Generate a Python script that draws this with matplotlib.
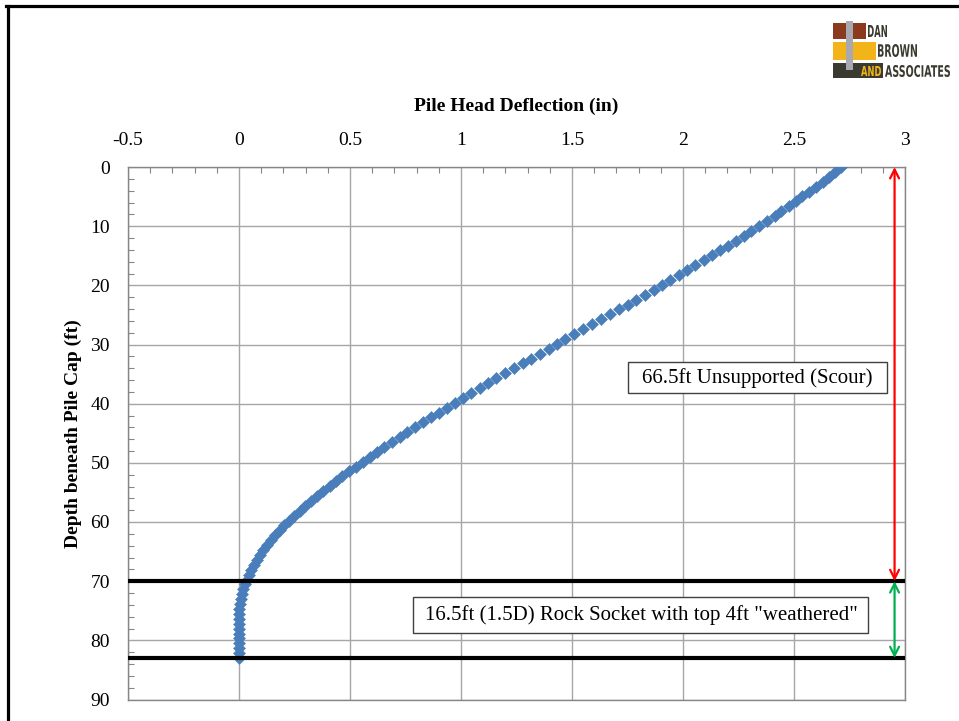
import matplotlib
matplotlib.use('Agg')
import matplotlib.pyplot as plt
from matplotlib.patches import Rectangle, PathPatch
from matplotlib.lines import Line2D
from matplotlib.textpath import TextPath
from matplotlib.font_manager import FontProperties
from matplotlib.transforms import Affine2D
from matplotlib.ticker import MultipleLocator

# pile nodes (ft below cap) and lateral deflection (in)
depth = [0.00, 0.83, 1.66, 2.49, 3.32, 4.15, 4.98, 5.81, 6.64, 7.47,
         8.30, 9.13, 9.96, 10.79, 11.62, 12.45, 13.28, 14.11, 14.94, 15.77,
         16.60, 17.43, 18.26, 19.09, 19.92, 20.75, 21.58, 22.41, 23.24, 24.07,
         24.90, 25.73, 26.56, 27.39, 28.22, 29.05, 29.88, 30.71, 31.54, 32.37,
         33.20, 34.03, 34.86, 35.69, 36.52, 37.35, 38.18, 39.01, 39.84, 40.67,
         41.50, 42.33, 43.16, 43.99, 44.82, 45.65, 46.48, 47.31, 48.14, 48.97,
         49.80, 50.63, 51.46, 52.29, 53.12, 53.95, 54.78, 55.61, 56.44, 57.27,
         58.10, 58.93, 59.76, 60.59, 61.42, 62.25, 63.08, 63.91, 64.74, 65.57,
         66.40, 67.23, 68.06, 68.89, 69.72, 70.55, 71.38, 72.21, 73.04, 73.87,
         74.70, 75.53, 76.36, 77.19, 78.02, 78.85, 79.68, 80.51, 81.34, 82.17,
         83.00]
deflection = [2.713, 2.683, 2.658, 2.631, 2.601, 2.568, 2.538, 2.508, 2.477, 2.443,
              2.413, 2.378, 2.342, 2.308, 2.273, 2.237, 2.203, 2.165, 2.131, 2.093,
              2.056, 2.020, 1.981, 1.943, 1.905, 1.868, 1.827, 1.790, 1.751, 1.710,
              1.670, 1.629, 1.590, 1.550, 1.511, 1.470, 1.432, 1.395, 1.358, 1.317,
              1.279, 1.239, 1.198, 1.159, 1.122, 1.084, 1.045, 1.009, 0.973, 0.937,
              0.901, 0.865, 0.829, 0.795, 0.759, 0.724, 0.689, 0.655, 0.622, 0.589,
              0.559, 0.527, 0.497, 0.466, 0.437, 0.408, 0.379, 0.351, 0.324, 0.298,
              0.273, 0.249, 0.226, 0.204, 0.183, 0.163, 0.144, 0.126, 0.109, 0.094,
              0.080, 0.067, 0.055, 0.044, 0.035, 0.027, 0.020, 0.014, 0.009, 0.005,
              0.002, 0.000, -0.001, -0.001, -0.001, -0.001, -0.001, -0.001, -0.001, -0.001,
              -0.001]

x_ticks = [-0.5, 0, 0.5, 1, 1.5, 2, 2.5, 3]
x_ticklabels = ['-0.5', '0', '0.5', '1', '1.5', '2', '2.5', '3']
y_ticks = [0, 10, 20, 30, 40, 50, 60, 70, 80, 90]
y_ticklabels = ['0', '10', '20', '30', '40', '50', '60', '70', '80', '90']

socket_top = 70
socket_tip = 83
scour_label = '66.5ft Unsupported (Scour)'
socket_label = '16.5ft (1.5D) Rock Socket with top 4ft "weathered"'

W, H = 959, 721
serif = 'Liberation Serif'

fig = plt.figure(figsize=(W / 100, H / 100), dpi=100)
ax = fig.add_axes([128 / W, 1 - 699.5 / H, (905 - 128) / W, (699.5 - 167) / H])

ax.plot(deflection, depth, linestyle='none', marker='D', ms=6.3, mew=0.4,
        color='#4A7EBB', zorder=3)

ax.axhline(socket_top, color='black', lw=3, zorder=4)
ax.axhline(socket_tip, color='black', lw=3, zorder=4)

# dimension arrows
ax.annotate('', xy=(2.953, 0), xytext=(2.953, socket_top),
            arrowprops=dict(arrowstyle='<->', color='red', lw=1.6,
                            shrinkA=0, shrinkB=0, mutation_scale=16), zorder=5)
ax.annotate('', xy=(2.953, socket_top), xytext=(2.953, socket_tip),
            arrowprops=dict(arrowstyle='<->', color='#00B050', lw=1.6,
                            shrinkA=0, shrinkB=0, mutation_scale=16), zorder=5)

# label boxes
ax.add_patch(Rectangle((1.750, 32.9), 1.167, 5.35, fc='white', ec='#404040',
                       lw=1, zorder=6))
ax.text(2.333, 35.6, scour_label, ha='center', va='center', fontsize=15,
        family=serif, zorder=7)
ax.add_patch(Rectangle((0.786, 72.6), 2.049, 6.2, fc='white', ec='#404040',
                       lw=1, zorder=6))
ax.text(1.811, 75.7, socket_label, ha='center', va='center', fontsize=15,
        family=serif, zorder=7)

ax.set_xlim(-0.5, 3)
ax.set_ylim(90, 0)
ax.xaxis.tick_top()
ax.xaxis.set_label_position('top')
ax.set_xticks(x_ticks)
ax.set_xticklabels(x_ticklabels, family=serif, fontsize=14)
ax.set_yticks(y_ticks)
ax.set_yticklabels(y_ticklabels, family=serif, fontsize=14)
ax.xaxis.set_minor_locator(MultipleLocator(0.1))
ax.yaxis.set_minor_locator(MultipleLocator(2))
ax.tick_params(axis='x', which='both', direction='in', color='#868686', pad=13)
ax.tick_params(axis='y', which='both', direction='in', color='#868686', pad=13)
ax.tick_params(which='major', length=0)
ax.tick_params(which='minor', length=4, width=0.8)

ax.grid(True, which='major', color='#A6A6A6', lw=1)
ax.set_axisbelow(True)
for s in ax.spines.values():
    s.set_color('#868686')
    s.set_linewidth(1)

ax.set_xlabel('Pile Head Deflection (in)', family=serif, fontsize=14,
              fontweight='bold', labelpad=15)
ax.set_ylabel('Depth beneath Pile Cap (ft)', family=serif, fontsize=14,
              fontweight='bold', labelpad=6)

# slide frame
fig.add_artist(Line2D([7.5 / W, 7.5 / W], [0, 1 - 6 / H], color='black', lw=2.3,
                      transform=fig.transFigure))
fig.add_artist(Line2D([6 / W, 1], [1 - 6 / H, 1 - 6 / H], color='black', lw=2.3,
                      transform=fig.transFigure))


# logo, in pixel coordinates from top-left
def box(x0, y0, x1, y1, color):
    fig.add_artist(Rectangle((x0 / W, 1 - y1 / H), (x1 - x0) / W, (y1 - y0) / H,
                             fc=color, ec='none', transform=fig.transFigure))


def word(s, x0, y0, x1, y1, color):
    tp = TextPath((0, 0), s, size=10,
                  prop=FontProperties(family='DejaVu Sans', weight='bold'))
    ext = tp.get_extents()
    tr = (Affine2D().translate(-ext.x0, -ext.y0)
          .scale((x1 - x0) / ext.width, (y1 - y0) / ext.height)
          .translate(x0, H - y1).scale(1 / W, 1 / H))
    fig.add_artist(PathPatch(tr.transform_path(tp), fc=color, ec='none',
                             transform=fig.transFigure))


box(833, 23, 846, 39, '#8B3A1E')
box(853, 23, 866, 39, '#8B3A1E')
box(833, 42, 846, 60, '#F2B418')
box(853, 42, 876, 60, '#F2B418')
box(833, 63, 883, 78, '#3A3A30')
box(846, 21, 853, 70, '#A8A8B0')
word('AND', 861, 66, 881, 76, '#F2B418')
word('DAN', 868, 25, 887, 37, '#3A3A30')
word('BROWN', 878, 44, 917, 57, '#3A3A30')
word('ASSOCIATES', 885, 65, 950, 77, '#3A3A30')

fig.savefig('out.png', dpi=100)
